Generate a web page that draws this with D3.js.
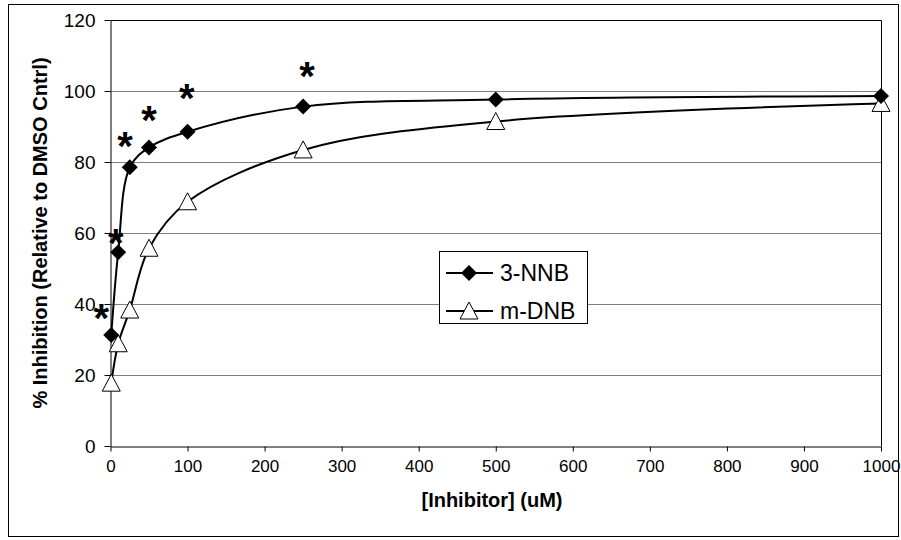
<!DOCTYPE html>
<html><head><meta charset="utf-8">
<script src="https://cdn.jsdelivr.net/npm/d3@7"></script>
<style>body{margin:0;background:#fff}svg{display:block;font-family:Arial,"Liberation Sans",sans-serif}</style>
</head><body><svg id="c" width="901" height="540"></svg>
<script>
const concentrations = [1, 10, 25, 50, 100, 250, 500, 1000];
const nnbValues = [31.3, 54.6, 78.5, 84.1, 88.5, 95.6, 97.6, 98.6];
const dnbValues = [17.7, 28.8, 38.3, 55.7, 68.8, 83.4, 91.4, 96.5];
const seriesNames = ["3-NNB", "m-DNB"];
const xTicks = [0, 100, 200, 300, 400, 500, 600, 700, 800, 900, 1000];
const yTicks = [0, 20, 40, 60, 80, 100, 120];
const starX = [-12, 7, 19, 50, 99, 255];
const starY = [37.7, 58.9, 86.2, 93.5, 99.7, 105.9];
const xTitle = "[Inhibitor] (uM)";
const yTitle = "% Inhibition (Relative to DMSO Cntrl)";

const svg = d3.select("#c");
const L = 110.5, R = 881, T = 20, B = 446;
const x = d3.scaleLinear().domain([0, 1000]).range([L, R]);
const y = d3.scaleLinear().domain([0, 120]).range([B, T]);

svg.append("rect").attr("x", 8.5).attr("y", 4.5).attr("width", 890).attr("height", 532)
  .attr("fill", "#fff").attr("stroke", "#000").attr("stroke-width", 1);

svg.append("g").selectAll("line").data(yTicks.filter(v => v > 0 && v < 120)).join("line")
  .attr("x1", L).attr("x2", R).attr("y1", d => Math.round(y(d)) + 0.5).attr("y2", d => Math.round(y(d)) + 0.5)
  .attr("stroke", "#808080").attr("stroke-width", 1);
svg.append("path").attr("d", `M${L},${T + 0.5}H${R + 0.5}V${B}`).attr("fill", "none").attr("stroke", "#000");

const xAxis = svg.append("g").attr("transform", `translate(0,${B + 0.5})`)
  .call(d3.axisBottom(x).tickValues(xTicks).tickFormat(d3.format("d")).tickSize(5).tickPadding(8).tickSizeOuter(0));
const yAxis = svg.append("g").attr("transform", `translate(${L},0)`)
  .call(d3.axisLeft(y).tickValues(yTicks).tickFormat(d3.format("d")).tickSize(6).tickPadding(9).tickSizeOuter(0));
xAxis.selectAll("text").attr("font-size", 17);
yAxis.selectAll("text").attr("font-size", 19);
[xAxis, yAxis].forEach(g => {
  g.selectAll("text").attr("fill", "#000").attr("font-family", "Arial, 'Liberation Sans', sans-serif");
  g.selectAll("line,path").attr("stroke", "#000");
});

const line = d3.line().x(d => x(d[0])).y(d => y(d[1])).curve(d3.curveCatmullRom.alpha(0.5));
const nnb = concentrations.map((c, i) => [c, nnbValues[i]]);
const dnb = concentrations.map((c, i) => [c, dnbValues[i]]);

svg.append("path").datum(dnb).attr("d", line).attr("fill", "none").attr("stroke", "#000").attr("stroke-width", 2);
svg.append("path").datum(nnb).attr("d", line).attr("fill", "none").attr("stroke", "#000").attr("stroke-width", 2);

const diamond = "M0,-8L8,0L0,8L-8,0Z";
const tri = "M0,-9L9,8L-9,8Z";

svg.append("g").selectAll("path").data(dnb).join("path")
  .attr("transform", d => `translate(${x(d[0])},${y(d[1])})`).attr("d", tri)
  .attr("fill", "#fff").attr("stroke", "#000").attr("stroke-width", 1);
svg.append("g").selectAll("path").data(nnb).join("path")
  .attr("transform", d => `translate(${x(d[0])},${y(d[1])})`).attr("d", diamond)
  .attr("fill", "#000");

const starSize = 40;
svg.append("g").selectAll("text").data(starX).join("text")
  .attr("x", d => x(d)).attr("y", (d, i) => y(starY[i]) + starSize * 0.5)
  .attr("text-anchor", "middle").attr("font-size", starSize).attr("font-weight", "bold").text("*");

svg.append("text").attr("x", 492).attr("y", 507).attr("text-anchor", "middle")
  .attr("font-size", 20).attr("font-weight", "bold").text(xTitle);
svg.append("text").attr("transform", "translate(47,233) rotate(-90)").attr("text-anchor", "middle")
  .attr("font-size", 20).attr("font-weight", "bold").text(yTitle);

const lg = svg.append("g");
lg.append("rect").attr("x", 439.5).attr("y", 251.5).attr("width", 148).attr("height", 72)
  .attr("fill", "#fff").attr("stroke", "#000");
const rows = [273, 311];
seriesNames.forEach((n, i) => {
  lg.append("line").attr("x1", 446).attr("x2", 493).attr("y1", rows[i]).attr("y2", rows[i]).attr("stroke", "#000").attr("stroke-width", 2);
  lg.append("path").attr("transform", `translate(469,${rows[i]})`).attr("d", i === 0 ? diamond : tri)
    .attr("fill", i === 0 ? "#000" : "#fff").attr("stroke", i === 0 ? "none" : "#000");
  lg.append("text").attr("x", 500).attr("y", rows[i] + 8).attr("font-size", 23).text(n);
});
</script></body></html>
